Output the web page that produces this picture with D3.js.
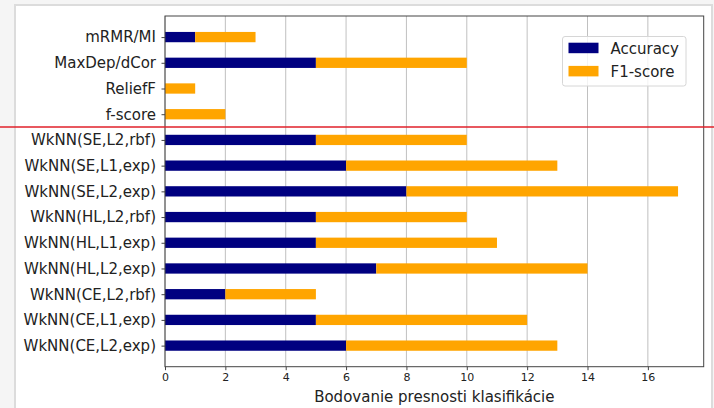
<!DOCTYPE html>
<html>
<head>
<meta charset="utf-8">
<script src="https://cdn.jsdelivr.net/npm/d3@7"></script>
<style>
  html, body { margin: 0; padding: 0; background: #f5f5f5; }
  svg { display: block; }
  text { font-family: "DejaVu Sans", sans-serif; fill: #222; }
</style>
</head>
<body>
<svg id="chart" width="714" height="408"></svg>
<script>
// Methods, top to bottom
const categories = [
  "mRMR/MI", "MaxDep/dCor", "ReliefF", "f-score",
  "WkNN(SE,L2,rbf)", "WkNN(SE,L1,exp)", "WkNN(SE,L2,exp)",
  "WkNN(HL,L2,rbf)", "WkNN(HL,L1,exp)", "WkNN(HL,L2,exp)",
  "WkNN(CE,L2,rbf)", "WkNN(CE,L1,exp)", "WkNN(CE,L2,exp)"
];
const accuracy = [1, 5, 0, 0, 5, 6, 8, 5, 5, 7, 2, 5, 6];
const f1score  = [2, 5, 1, 2, 5, 7, 9, 5, 6, 7, 3, 7, 7];
const xTicks = [0, 2, 4, 6, 8, 10, 12, 14, 16];
const seriesNames = ["Accuracy", "F1-score"];
const seriesColors = ["#000080", "#FFA500"];
const separatorAfter = 3; // line between feature selectors and WkNN variants
const xLabel = "Bodovanie presnosti klasifikácie";

const svg = d3.select("#chart");

// page frame
svg.append("rect").attr("x", 0).attr("y", 0).attr("width", 714).attr("height", 408).attr("fill", "#f5f5f5");
svg.append("rect").attr("x", 15).attr("y", 5).attr("width", 697).attr("height", 410)
  .attr("fill", "#ffffff").attr("stroke", "#dcdcdc").attr("stroke-width", 2);

const plot = { left: 165, right: 703.7, top: 16, bottom: 366.7 };

const xMax = d3.max(accuracy.map((a, i) => a + f1score[i]));
const x = d3.scaleLinear().domain([0, xMax * 1.05]).range([plot.left, plot.right]);

const barH = 0.4;
const n = categories.length;
const pad = (n - 1 + barH) * 0.05;
const y = d3.scaleLinear()
  .domain([-barH / 2 - pad, n - 1 + barH / 2 + pad])
  .range([plot.top, plot.bottom]);
const yPos = i => y(i);

// vertical grid
svg.append("g").selectAll("line").data(xTicks).join("line")
  .attr("x1", d => x(d)).attr("x2", d => x(d))
  .attr("y1", plot.top).attr("y2", plot.bottom)
  .attr("stroke", "#b0b0b0").attr("stroke-width", 0.8);

// stacked bars
const bars = svg.append("g");
categories.forEach((c, i) => {
  const y0 = yPos(i) - (y(barH) - y(0)) / 2;
  const h = y(barH) - y(0);
  if (accuracy[i] > 0) {
    bars.append("rect").attr("x", x(0)).attr("y", y0)
      .attr("width", x(accuracy[i]) - x(0)).attr("height", h).attr("fill", seriesColors[0]);
  }
  bars.append("rect").attr("x", x(accuracy[i])).attr("y", y0)
    .attr("width", x(accuracy[i] + f1score[i]) - x(accuracy[i])).attr("height", h).attr("fill", seriesColors[1]);
});

// frame of the axes
svg.append("rect").attr("x", plot.left).attr("y", plot.top)
  .attr("width", plot.right - plot.left).attr("height", plot.bottom - plot.top)
  .attr("fill", "none").attr("stroke", "#444").attr("stroke-width", 1);

// x axis
const xAxis = d3.axisBottom(x).tickValues(xTicks).tickSize(3.5).tickPadding(3.5).tickFormat(d3.format("d"));
const gx = svg.append("g").attr("transform", `translate(0,${plot.bottom})`).call(xAxis);
gx.select(".domain").remove();
gx.selectAll("line").attr("stroke", "#444");
gx.selectAll("text").attr("font-size", 11).attr("font-family", "DejaVu Sans").attr("fill", "#222");

// y axis
const yAxis = d3.axisLeft(y).tickValues(d3.range(n)).tickFormat(i => categories[i]).tickSize(3.5).tickPadding(5.5);
const gy = svg.append("g").attr("transform", `translate(${plot.left},0)`).call(yAxis);
gy.select(".domain").remove();
gy.selectAll("line").attr("stroke", "#444");
gy.selectAll("text").attr("font-size", 15).attr("font-family", "DejaVu Sans").attr("fill", "#222");

// x label
svg.append("text").attr("x", (plot.left + plot.right) / 2).attr("y", 401.5)
  .attr("text-anchor", "middle").attr("font-size", 15).text(xLabel);

// separator line
const sepY = y(separatorAfter + 0.5);
svg.append("line").attr("x1", 0).attr("x2", 714).attr("y1", sepY).attr("y2", sepY)
  .attr("stroke", "#e0202a").attr("stroke-width", 1.6);

// legend
const lg = svg.append("g");
lg.append("rect").attr("x", 562.5).attr("y", 36.5).attr("width", 123.5).attr("height", 49.5)
  .attr("rx", 2.5).attr("fill", "#ffffff").attr("fill-opacity", 0.8)
  .attr("stroke", "#d6d6d6").attr("stroke-width", 1);
seriesNames.forEach((s, i) => {
  const yy = 42.7 + i * 23.2;
  lg.append("rect").attr("x", 568.5).attr("y", yy).attr("width", 30).attr("height", 10.5).attr("fill", seriesColors[i]);
  lg.append("text").attr("x", 610.5).attr("y", yy + 10.8).attr("font-size", 15).text(s);
});
</script>
</body>
</html>
